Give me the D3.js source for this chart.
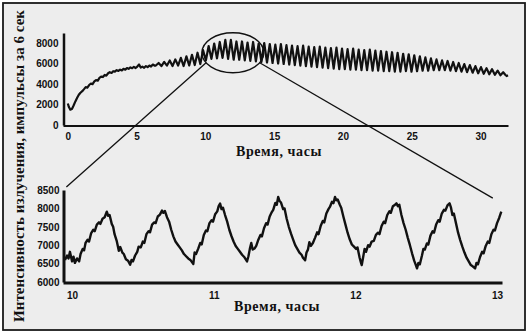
<!DOCTYPE html>
<html>
<head>
<meta charset="utf-8">
<script src="https://cdn.jsdelivr.net/npm/d3@7"></script>
<style>
  body { margin: 0; background: #fff; }
  svg { display: block; }
</style>
</head>
<body>
<div id="chart"></div>
<script>
(function(){

  var width = 529;
  var height = 335;

  // overview, slow rise before the oscillations (hours, counts per 6 s)
  var riseData = [
    [0.0,2100],[0.08,1750],[0.18,1500],[0.3,1560],[0.42,1900],[0.55,2300],[0.68,2650],[0.8,2950],
    [0.92,3150],[1.05,3300],[1.18,3500],[1.3,3700],[1.42,3640],[1.55,3900],[1.68,4050],[1.8,3980],
    [1.93,4250],[2.05,4380],[2.18,4330],[2.3,4600],[2.42,4720],[2.55,4680],[2.68,4880],[2.8,4820],
    [2.93,5050],[3.05,5150],[3.18,5080],[3.3,5250],[3.42,5200],[3.55,5350],[3.68,5280],[3.8,5400],
    [3.93,5330],[4.05,5480],[4.18,5400],[4.3,5560],[4.42,5480],[4.55,5620],[4.68,5540],[4.8,5680],
    [4.93,5560],[5.05,5700],[5.18,5900],[5.3,5600],[5.42,5700],[5.55,5580],[5.68,5750],[5.8,5650],
    [5.93,5800],[6.05,5700],[6.18,5900],[6.3,5800]
  ];

  // overview, one trough and one peak per cycle from cycleStart on
  var cycleStart = 6.4;
  var cyclePeriod = 0.404;
  var cyclePeaks = [
    6050,6150,6300,6400,6550,6700,6850,7050,7300,7700,
    7950,8100,8300,8300,8150,8150,8050,8100,7950,8000,
    7900,7850,7900,7800,7750,7700,7750,7650,7600,7650,
    7550,7500,7550,7450,7400,7450,7350,7300,7350,7250,
    7200,7150,7100,7050,6950,6900,6800,6700,6600,6500,
    6400,6300,6250,6150,6050,5950,5850,5750,5650,5550,
    5450,5300,5150
  ];
  var cycleTroughs = [
    5800,5750,5800,5750,5800,5750,5800,5850,5950,6300,
    6450,6500,6550,6450,6370,6370,6300,6250,6200,6150,
    6100,6050,6000,5950,5900,5850,5800,5750,5700,5650,
    5600,5550,5500,5450,5450,5400,5400,5350,5350,5300,
    5300,5250,5250,5200,5200,5250,5200,5250,5300,5300,
    5350,5350,5350,5300,5250,5200,5150,5100,5050,5000,
    4950,4900,4850
  ];
  var tailData = [[31.8,4900],[31.9,4780],[32.0,4850]];

  // close-up, 10 to 13 hours
  var zoomData = [
    [9.95,6600],[9.965,6720],[9.975,6640],[9.985,6820],[10.0,6560],[10.01,6690],[10.02,6520],[10.035,6640],
    [10.05,6560],[10.06,6760],[10.075,6900],[10.085,6860],[10.095,7060],[10.11,7150],[10.12,7100],[10.135,7330],
    [10.15,7420],[10.16,7380],[10.175,7560],[10.19,7620],[10.2,7580],[10.215,7720],[10.23,7760],[10.245,7910],
    [10.255,7800],[10.265,7820],[10.28,7580],[10.29,7500],[10.3,7300],[10.315,7120],[10.33,6850],[10.34,6950],
    [10.355,6800],[10.365,6760],[10.38,6620],[10.395,6580],[10.41,6470],[10.42,6600],[10.43,6560],[10.445,6720],
    [10.46,6820],[10.47,6960],[10.485,6940],[10.5,7100],[10.51,7060],[10.525,7300],[10.54,7380],[10.55,7350],
    [10.565,7560],[10.58,7620],[10.59,7600],[10.605,7780],[10.62,7830],[10.635,7940],[10.645,7880],[10.655,7930],
    [10.67,7760],[10.685,7640],[10.7,7420],[10.715,7240],[10.73,7100],[10.745,7020],[10.76,6940],[10.775,6860],
    [10.79,6760],[10.805,6700],[10.82,6640],[10.835,6600],[10.85,6520],[10.856,6490],[10.865,6800],[10.875,6760],
    [10.89,6900],[10.905,7060],[10.915,7020],[10.93,7280],[10.945,7400],[10.955,7380],[10.97,7600],[10.985,7680],
    [10.995,7640],[11.01,7840],[11.025,7920],[11.035,8060],[11.045,8130],[11.055,7980],[11.065,8020],[11.08,7820],
    [11.095,7640],[11.11,7420],[11.125,7250],[11.14,7100],[11.155,6980],[11.17,6900],[11.185,6820],[11.2,6740],
    [11.215,6680],[11.225,6620],[11.235,6560],[11.245,6700],[11.255,6900],[11.265,7060],[11.275,6880],[11.29,6920],
    [11.3,6980],[11.315,7150],[11.33,7280],[11.34,7240],[11.355,7460],[11.37,7600],[11.38,7560],[11.395,7780],
    [11.41,7900],[11.42,7960],[11.435,8150],[11.445,8100],[11.455,8310],[11.465,8200],[11.475,8160],[11.49,7980],
    [11.5,8000],[11.515,7720],[11.53,7500],[11.545,7320],[11.56,7160],[11.575,7000],[11.59,6900],[11.605,6800],
    [11.62,6740],[11.63,6660],[11.645,6590],[11.655,6800],[11.665,6880],[11.675,7080],[11.685,6980],[11.7,7060],
    [11.715,7200],[11.73,7350],[11.74,7300],[11.755,7520],[11.77,7660],[11.78,7620],[11.795,7860],[11.81,7980],
    [11.82,8040],[11.835,8180],[11.845,8140],[11.856,8310],[11.865,8220],[11.875,8240],[11.89,8100],[11.9,8020],
    [11.915,7780],[11.93,7560],[11.945,7340],[11.96,7160],[11.975,7020],[11.99,6960],[12.005,6900],[12.015,6940],
    [12.03,6660],[12.04,6520],[12.045,6460],[12.055,6680],[12.065,6900],[12.075,6820],[12.09,7000],[12.1,6960],
    [12.115,7100],[12.13,7120],[12.145,7280],[12.16,7340],[12.17,7300],[12.185,7520],[12.2,7640],[12.21,7600],
    [12.225,7820],[12.24,7920],[12.25,7880],[12.265,8060],[12.28,8100],[12.29,8140],[12.3,8060],[12.31,8100],
    [12.325,7820],[12.34,7600],[12.355,7420],[12.37,7200],[12.385,7000],[12.4,6780],[12.415,6580],[12.425,6480],
    [12.435,6370],[12.445,6520],[12.455,6480],[12.47,6720],[12.48,6900],[12.49,6880],[12.505,7050],[12.515,7020],
    [12.53,7260],[12.545,7380],[12.555,7340],[12.57,7560],[12.585,7680],[12.595,7640],[12.61,7860],[12.625,7960],
    [12.635,7940],[12.65,8080],[12.665,8140],[12.675,8020],[12.685,7820],[12.695,7860],[12.71,7600],[12.725,7340],
    [12.74,7140],[12.755,6960],[12.77,6800],[12.785,6660],[12.8,6560],[12.815,6460],[12.83,6420],[12.845,6370],
    [12.855,6520],[12.865,6480],[12.88,6680],[12.895,6820],[12.905,6780],[12.92,6980],[12.935,7100],[12.945,7060],
    [12.96,7300],[12.975,7420],[12.985,7400],[13.0,7600],[13.015,7740],[13.03,7910]
  ];

  var topXTicks = [0, 5, 10, 15, 20, 25, 30];
  var topYTicks = [0, 2000, 4000, 6000, 8000];
  var botXTicks = [10, 11, 12, 13];
  var botYTicks = [6000, 6500, 7000, 7500, 8000, 8500];

  // circled part of the overview, and where the lines meet the close-up
  var circleCenter = [12, 7050];
  var circleHalfWidth = 2.25;   // hours
  var circleHalfHeight = 1950;  // counts
  var lineEnds = [[9.96, 8580], [12.97, 8280]];

  var yTitle = 'Интенсивность излучения, импульсы за 6 сек';
  var xTitle = 'Время, часы';

  // build the overview series
  var overview = riseData.slice();
  cyclePeaks.forEach(function(p, i){
    var t0 = cycleStart + i * cyclePeriod;
    overview.push([t0, cycleTroughs[i]]);
    overview.push([t0 + cyclePeriod / 2, p]);
  });
  overview = overview.concat(tailData);

  var svg = d3.select('#chart')
    .append('svg')
    .attr('width', width)
    .attr('height', height);

  svg.append('rect')
    .attr('x', 3).attr('y', 3)
    .attr('width', 522).attr('height', 327)
    .attr('fill', '#ededed')
    .attr('stroke', '#1a1a1a')
    .attr('stroke-width', 1.8);

  var xTop = d3.scaleLinear().domain([-0.35, 32]).range([63, 508]);
  var yTop = d3.scaleLinear().domain([0, 8976]).range([125, 33]);
  var xBot = d3.scaleLinear().domain([9.936, 13.035]).range([63, 502]);
  var yBot = d3.scaleLinear().domain([6000, 8500]).range([282, 190]);

  var styleAxis = function(g, w){
    g.select('.domain').attr('stroke', '#111').attr('stroke-width', w);
    g.selectAll('text')
      .attr('font-family', 'Liberation Sans, Arial, sans-serif')
      .attr('font-weight', 'bold')
      .attr('font-size', '10px')
      .attr('fill', '#111');
  };

  // overview axes
  svg.append('g')
    .attr('transform', 'translate(0,125.5)')
    .call(d3.axisBottom(xTop).tickValues(topXTicks).tickSize(0).tickPadding(7).tickFormat(d3.format('d')))
    .call(styleAxis, 2);
  svg.append('g')
    .attr('transform', 'translate(63.5,0)')
    .call(d3.axisLeft(yTop).tickValues(topYTicks).tickSize(0).tickPadding(5).tickFormat(d3.format('d')))
    .call(styleAxis, 2.5);

  // close-up axes
  svg.append('g')
    .attr('transform', 'translate(0,282.5)')
    .call(d3.axisBottom(xBot).tickValues(botXTicks).tickSize(0).tickPadding(9).tickFormat(d3.format('d')))
    .call(styleAxis, 3);
  svg.append('g')
    .attr('transform', 'translate(63.5,0)')
    .call(d3.axisLeft(yBot).tickValues(botYTicks).tickSize(0).tickPadding(4).tickFormat(d3.format('d')))
    .call(styleAxis, 3);

  var lineTop = d3.line()
    .x(function(d){ return xTop(d[0]); })
    .y(function(d){ return yTop(d[1]); });
  var lineBot = d3.line()
    .x(function(d){ return xBot(d[0]); })
    .y(function(d){ return yBot(d[1]); });

  svg.append('path')
    .datum(overview)
    .attr('d', lineTop)
    .attr('fill', 'none')
    .attr('stroke', '#111')
    .attr('stroke-width', 2.2)
    .attr('stroke-linejoin', 'round');

  svg.append('path')
    .datum(zoomData)
    .attr('d', lineBot)
    .attr('fill', 'none')
    .attr('stroke', '#111')
    .attr('stroke-width', 2.4)
    .attr('stroke-linejoin', 'round');

  // circle round the zoomed part and the two connecting lines
  var cx = xTop(circleCenter[0]);
  var cy = yTop(circleCenter[1]);
  var rx = xTop(circleCenter[0] + circleHalfWidth) - cx;
  var ry = cy - yTop(circleCenter[1] + circleHalfHeight);
  svg.append('ellipse')
    .attr('cx', cx).attr('cy', cy)
    .attr('rx', rx).attr('ry', ry)
    .attr('fill', 'none')
    .attr('stroke', '#111')
    .attr('stroke-width', 1.3);

  var angles = [Math.PI * 5 / 6, Math.PI / 6];
  angles.forEach(function(a, i){
    svg.append('line')
      .attr('x1', cx + rx * Math.cos(a))
      .attr('y1', cy + ry * Math.sin(a))
      .attr('x2', xBot(lineEnds[i][0]))
      .attr('y2', yBot(lineEnds[i][1]))
      .attr('stroke', '#111')
      .attr('stroke-width', 1.3);
  });

  // titles
  svg.append('text')
    .attr('transform', 'translate(24,166) rotate(-90)')
    .attr('text-anchor', 'middle')
    .attr('font-family', 'Liberation Serif, Times New Roman, serif')
    .attr('font-weight', 'bold')
    .attr('font-size', '15px')
    .attr('textLength', 312)
    .attr('lengthAdjust', 'spacing')
    .attr('fill', '#111')
    .text(yTitle);

  [[279, 156], [277, 311]].forEach(function(p){
    svg.append('text')
      .attr('x', p[0]).attr('y', p[1])
      .attr('text-anchor', 'middle')
      .attr('font-family', 'Liberation Serif, Times New Roman, serif')
      .attr('font-weight', 'bold')
      .attr('font-size', '14px')
      .attr('letter-spacing', '0.6px')
      .attr('fill', '#111')
      .text(xTitle);
  });

})();
</script>
</body>
</html>
